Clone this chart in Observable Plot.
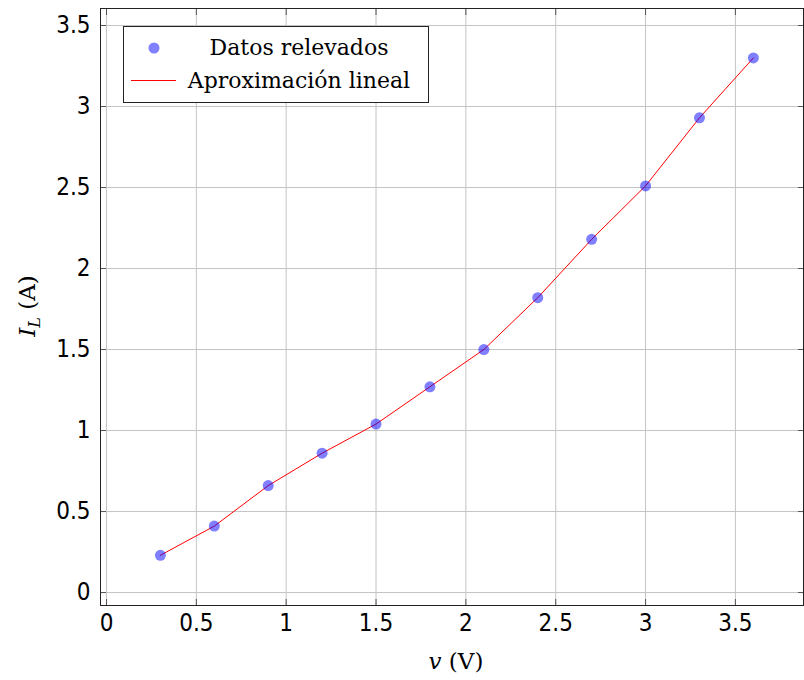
<!DOCTYPE html>
<html>
<head>
<meta charset="utf-8">
<script src="https://cdn.jsdelivr.net/npm/d3@7"></script>
<script src="https://cdn.jsdelivr.net/npm/@observablehq/plot@0.6"></script>
<style>
  html, body { margin: 0; padding: 0; background: #fff; }
  #chart { position: relative; width: 804px; height: 680px; }
</style>
</head>
<body>
<div id="chart"></div>
<script>
const voltages = [0.3, 0.6, 0.9, 1.2, 1.5, 1.8, 2.1, 2.4, 2.7, 3.0, 3.3, 3.6];
const currents = [0.23, 0.41, 0.66, 0.86, 1.04, 1.27, 1.50, 1.82, 2.18, 2.51, 2.93, 3.30];
const xTicks = [0, 0.5, 1, 1.5, 2, 2.5, 3, 3.5];
const yTicks = [0, 0.5, 1, 1.5, 2, 2.5, 3, 3.5];
const seriesLabels = ["Datos relevados", "Aproximación lineal"];

const data = voltages.map((v, i) => ({v, i: currents[i]}));
const tickFont = "'Liberation Sans Narrow', 'DejaVu Sans Condensed', 'DejaVu Sans', sans-serif";
const fmt = d => String(d);

const plot = Plot.plot({
  width: 804,
  height: 680,
  marginLeft: 100,
  marginRight: 1,
  marginTop: 8,
  marginBottom: 75,
  style: {fontFamily: tickFont, fontSize: "24px", color: "#000", background: "#fff", fontStretch: "condensed"},
  x: {domain: [-0.0334, 3.879]},
  y: {domain: [-0.08, 3.605]},
  marks: [
    Plot.gridX(xTicks, {stroke: "#c4c4c4", strokeOpacity: 1}),
    Plot.gridY(yTicks, {stroke: "#c4c4c4", strokeOpacity: 1}),
    Plot.axisX(xTicks, {anchor: "bottom", tickSize: 0, tickPadding: 8, tickFormat: fmt, label: null, fontSize: 24}),
    Plot.axisY(yTicks, {anchor: "left", tickSize: 0, tickPadding: 10, tickFormat: fmt, label: null, fontSize: 24}),
    Plot.axisX(xTicks, {anchor: "bottom", tickSize: -6, text: null, label: null, stroke: "#555"}),
    Plot.axisX(xTicks, {anchor: "top", tickSize: -6, text: null, label: null, stroke: "#555"}),
    Plot.axisY(yTicks, {anchor: "left", tickSize: -6, text: null, label: null, stroke: "#555"}),
    Plot.axisY(yTicks, {anchor: "right", tickSize: -6, text: null, label: null, stroke: "#555"}),
    Plot.line(data, {x: "v", y: "i", stroke: "#ff0000", strokeWidth: 1}),
    Plot.dot(data, {x: "v", y: "i", r: 5.5, fill: "#0000ff", fillOpacity: 0.5, stroke: "none"}),
    Plot.frame({stroke: "#222", strokeWidth: 1})
  ]
});

document.getElementById("chart").appendChild(plot);

// Axis titles and legend drawn into the same SVG
const svg = d3.select(plot);
const serif = "'DejaVu Serif', 'Liberation Serif', serif";

const xt = svg.append("text")
  .attr("x", 456).attr("y", 669)
  .attr("text-anchor", "middle").style("font-stretch", "normal")
  .attr("font-family", serif).attr("font-size", 23).attr("fill", "#000");
xt.append("tspan").attr("font-style", "italic").text("v");
xt.append("tspan").text(" (V)");

const yt = svg.append("text")
  .attr("transform", "translate(35,306) rotate(-90)")
  .attr("text-anchor", "middle").style("font-stretch", "normal")
  .attr("font-family", serif).attr("font-size", 23).attr("fill", "#000");
yt.append("tspan").attr("font-style", "italic").text("I");
yt.append("tspan").attr("font-style", "italic").attr("font-size", 16).attr("dy", 5).text("L");
yt.append("tspan").attr("dy", -5).text(" (A)");

// Legend
const lg = svg.append("g").style("font-stretch", "normal");
lg.append("rect").attr("x", 123.5).attr("y", 26.5).attr("width", 305).attr("height", 76)
  .attr("fill", "#fff").attr("stroke", "#222").attr("stroke-width", 1);
lg.append("circle").attr("cx", 154).attr("cy", 48).attr("r", 5.5)
  .attr("fill", "#0000ff").attr("fill-opacity", 0.5);
lg.append("line").attr("x1", 131).attr("x2", 176).attr("y1", 80.5).attr("y2", 80.5)
  .attr("stroke", "#ff0000").attr("stroke-width", 1);
lg.append("text").attr("x", 299).attr("y", 55).attr("text-anchor", "middle")
  .attr("font-family", serif).attr("font-size", 22).attr("fill", "#000").text(seriesLabels[0]);
lg.append("text").attr("x", 299).attr("y", 88).attr("text-anchor", "middle")
  .attr("font-family", serif).attr("font-size", 22).attr("fill", "#000").text(seriesLabels[1]);
</script>
</body>
</html>
